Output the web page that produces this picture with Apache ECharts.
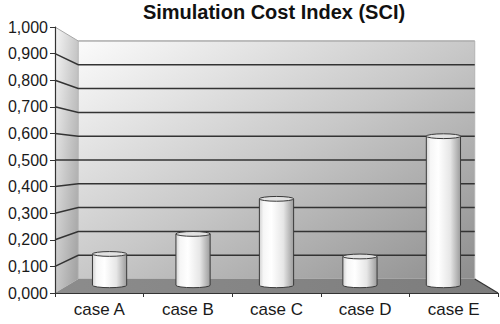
<!DOCTYPE html>
<html>
<head>
<meta charset="utf-8">
<script src="https://cdn.jsdelivr.net/npm/echarts@6/dist/echarts.min.js"></script>
<style>
html,body{margin:0;padding:0;background:#ffffff;}
#c{width:500px;height:324px;}
</style>
</head>
<body>
<div id="c"></div>
<script>
// ---- data ----
const titleText = 'Simulation Cost Index (SCI)';
const categories = ['case A', 'case B', 'case C', 'case D', 'case E'];
const sciValues = [0.125, 0.205, 0.345, 0.115, 0.595];
const yTicks = [0, 0.1, 0.2, 0.3, 0.4, 0.5, 0.6, 0.7, 0.8, 0.9, 1.0];
const yTickLabels = ['0,000', '0,100', '0,200', '0,300', '0,400', '0,500', '0,600', '0,700', '0,800', '0,900', '1,000'];

// ---- look ----
const BACK_S = 0.895;   // scale of the back wall (perspective)
const BAR_S = 0.942;    // depth of the cylinders
const BAR_W = 0.41;     // cylinder width as share of category
const FONT = '"Liberation Sans", Arial, sans-serif';

function persp(cs, p, s) {
  const cx = cs.x + cs.width / 2, cy = cs.y + cs.height / 2;
  return [cx + s * (p[0] - cx), cy + s * (p[1] - cy)];
}
const G = echarts.graphic;

const roomSeries = {
  type: 'custom',
  silent: true,
  z: 1,
  data: [[0, 0]],
  renderItem: function (params, api) {
    const cs = params.coordSys;
    const L = cs.x, R = cs.x + cs.width;
    const yTop = api.coord([0, yTicks[yTicks.length - 1]])[1];
    const yBot = api.coord([0, yTicks[0]])[1];
    const b = p => persp(cs, p, BACK_S);
    const ch = [];
    // left side wall
    ch.push({
      type: 'polygon',
      shape: { points: [[L, yTop], b([L, yTop]), b([L, yBot]), [L, yBot]] },
      style: { fill: new G.LinearGradient(0, 0, 1, 1, [
        { offset: 0, color: '#f6f6f6' }, { offset: 0.5, color: '#c8c8c8' }, { offset: 1, color: '#9e9e9e' }]) }
    });
    // back wall
    ch.push({
      type: 'polygon',
      shape: { points: [b([L, yTop]), b([R, yTop]), b([R, yBot]), b([L, yBot])] },
      style: { fill: new G.LinearGradient(0, 0, 1, 1, [
        { offset: 0, color: '#fbfbfb' }, { offset: 0.5, color: '#c8c8c8' }, { offset: 1, color: '#8e8e8e' }]),
        stroke: '#b4b4b4', lineWidth: 1 }
    });
    // floor
    ch.push({
      type: 'polygon',
      shape: { points: [[L, yBot], b([L, yBot]), b([R, yBot]), [R, yBot]] },
      style: { fill: new G.LinearGradient(0, 0, 1, 0, [
        { offset: 0, color: '#8c8c8c' }, { offset: 1, color: '#7c7c7c' }]) }
    });
    const fr = b([R, yBot]);
    ch.push({ type: 'line', shape: { x1: R, y1: yBot, x2: fr[0], y2: fr[1] },
      style: { stroke: '#333333', lineWidth: 1.2 } });
    // gridlines
    yTicks.forEach(function (v, k) {
      if (k === 0) return;
      const y = api.coord([0, v])[1];
      const isTop = k === yTicks.length - 1;
      ch.push({
        type: 'polyline',
        shape: { points: [[L, y], b([L, y]), b([R, y])] },
        style: { stroke: isTop ? '#a8a8a8' : '#333333', lineWidth: isTop ? 1 : 1.5, fill: null }
      });
    });
    return { type: 'group', children: ch };
  }
};

const barSeries = {
  type: 'custom',
  z: 3,
  data: sciValues.map((v, i) => [i, v]),
  renderItem: function (params, api) {
    const cs = params.coordSys;
    const i = api.value(0), v = api.value(1);
    const base = persp(cs, api.coord([i, 0]), BAR_S);
    const top = persp(cs, api.coord([i, v]), BAR_S);
    const w = api.size([1, 0])[0] * BAR_W * BAR_S;
    const rx = w / 2, ry = 2.4;
    const x1 = base[0] - rx, x2 = base[0] + rx;
    const yb = base[1], yt = top[1];
    const body = 'M' + x1 + ' ' + yt + ' L' + x1 + ' ' + yb +
      ' A' + rx + ' ' + ry + ' 0 0 0 ' + x2 + ' ' + yb +
      ' L' + x2 + ' ' + yt + ' Z';
    const cap = 'M' + x1 + ' ' + yt +
      ' A' + rx + ' ' + ry + ' 0 1 0 ' + x2 + ' ' + yt +
      ' A' + rx + ' ' + ry + ' 0 1 0 ' + x1 + ' ' + yt + ' Z';
    return {
      type: 'group',
      children: [
        { type: 'path', shape: { pathData: body },
          style: { fill: new G.LinearGradient(0, 0, 1, 0, [
            { offset: 0, color: '#d2d2d2' }, { offset: 0.12, color: '#f6f6f6' },
            { offset: 0.35, color: '#ffffff' }, { offset: 0.7, color: '#e6e6e6' },
            { offset: 1, color: '#9c9c9c' }]), stroke: '#3a3a3a', lineWidth: 1 } },
        { type: 'path', shape: { pathData: cap },
          style: { fill: '#e2e2e2', stroke: '#3a3a3a', lineWidth: 1 } }
      ]
    };
  }
};

const chart = echarts.init(document.getElementById('c'), null, { renderer: 'svg', width: 500, height: 324 });
chart.setOption({
  backgroundColor: '#ffffff',
  animation: false,
  graphic: [{
    type: 'text', x: 274, y: 12, z: 10,
    style: { text: titleText, font: 'bold 20px ' + FONT, fill: '#111111',
      textAlign: 'center', textVerticalAlign: 'middle' }
  }],
  grid: { left: 55, right: 2, top: 27, bottom: 31, containLabel: false },
  xAxis: {
    type: 'category',
    data: categories,
    boundaryGap: true,
    axisLine: { show: true, lineStyle: { color: '#333333', width: 1.2 } },
    axisTick: { show: true, alignWithLabel: false, length: 4, lineStyle: { color: '#333333' } },
    axisLabel: { color: '#1a1a1a', fontSize: 17, fontFamily: FONT, margin: 8 },
    splitLine: { show: false },
    z: 5
  },
  yAxis: {
    type: 'value',
    min: 0, max: 1, interval: 0.1,
    axisLine: { show: true, lineStyle: { color: '#333333', width: 1.2 } },
    axisTick: { show: true, length: 5, lineStyle: { color: '#333333' } },
    axisLabel: {
      color: '#1a1a1a', fontSize: 16, fontFamily: FONT, margin: 7,
      formatter: function (v) {
        const k = yTicks.findIndex(t => Math.abs(t - v) < 1e-6);
        return k >= 0 ? yTickLabels[k] : '';
      }
    },
    splitLine: { show: false },
    z: 5
  },
  series: [roomSeries, barSeries]
});
</script>
</body>
</html>
